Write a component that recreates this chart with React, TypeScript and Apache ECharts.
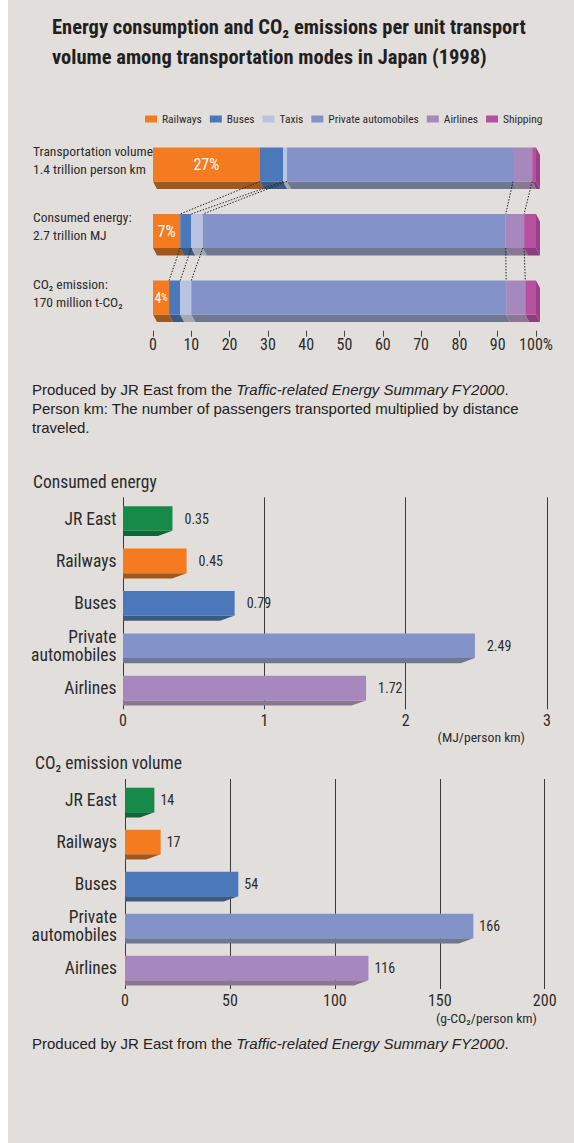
import React, { useEffect, useRef } from 'react';
import * as echarts from 'echarts';

// ---------- data ----------
const modeNames = ['Railways', 'Buses', 'Taxis', 'Private automobiles', 'Airlines', 'Shipping'];
const rowLabels = [
  'Transportation volume:\n1.4 trillion person km',
  'Consumed energy:\n2.7 trillion MJ',
  'CO₂ emission:\n170 million t-CO₂',
];
// shares (%) per mode, in modeNames order
const transportShare = [27.9, 6.1, 1.0, 59.0, 5.0, 1.0];
const energyShare = [7.1, 2.9, 3.0, 79.1, 4.8, 3.1];
const co2Share = [4.2, 2.9, 2.9, 82.2, 5.0, 2.8];
const railwayShareLabels = ['27', '7', '4'];

const lowerCategories = ['JR East', 'Railways', 'Buses', 'Private\nautomobiles', 'Airlines'];
const energyValues = [0.35, 0.45, 0.79, 2.49, 1.72];
const co2Values = [14, 17, 54, 166, 116];

const titleText = 'Energy consumption and CO₂ emissions per unit transport\nvolume among transportation modes in Japan (1998)';
const noteLines = [
  'Person km: The number of passengers transported multiplied by distance',
  'traveled.',
];
const sourcePlain = 'Produced by JR East from the ';
const sourceItalic = 'Traffic-related Energy Summary FY2000';

// ---------- styles ----------
const NARROW = "'Liberation Sans Narrow','Arial Narrow','Roboto Condensed','DejaVu Sans Condensed','Liberation Sans',sans-serif";
const SANS = "'Liberation Sans', Arial, Helvetica, sans-serif";
const BG = '#e2dedb';
const TXT = '#2b2b2b';
const NOTE_SIZE = 15;
const modeColors = ['#f47b20', '#4a78bb', '#b9c3e2', '#8393c9', '#a688bf', '#b5529f'];
const modeBevel = ['#a0581e', '#3b5a7f', '#a2a8b6', '#6f7891', '#8b7794', '#8d3c7e'];
const shippingSide = '#9a3f8a';
const catColors = ['#178a4a', '#f47b20', '#4a78bb', '#8393c9', '#a688bf'];
const catBevel = ['#0e6535', '#a0581e', '#3b5a7f', '#6f7891', '#8b7794'];
const shareNumSize = [16, 16, 14];
const sharePctSize = [16, 16, 10];

function cumulative(row: number[]) {
  let acc = 0;
  return [0, ...row.map((v) => (acc += v))];
}

function buildOption() {
  const shareRows = [transportShare, energyShare, co2Share];
  const cumRows = shareRows.map(cumulative);
  const HALF = 17;
  const DX = 4;
  const DY = 7.5;

  const stackSeries = modeNames.map((name, k) => ({
    type: 'custom',
    name,
    coordinateSystem: 'cartesian2d',
    xAxisIndex: 0,
    yAxisIndex: 0,
    itemStyle: { color: modeColors[k] },
    encode: { x: [0, 1], y: 2 },
    z: 3,
    data: cumRows.map((c, r) => [c[k], c[k + 1], r]),
    renderItem: (params: any, api: any) => {
      const s = api.value(0);
      const e = api.value(1);
      const r = api.value(2);
      const p0 = api.coord([s, r]);
      const p1 = api.coord([e, r]);
      const top = p0[1] - HALF;
      const bot = p0[1] + HALF;
      const children: any[] = [
        {
          type: 'polygon',
          shape: { points: [[p0[0], bot], [p1[0], bot], [p1[0] + DX, bot + DY], [p0[0] + DX, bot + DY]] },
          style: { fill: modeBevel[k] },
        },
        {
          type: 'rect',
          shape: { x: p0[0], y: top, width: p1[0] - p0[0], height: bot - top },
          style: { fill: modeColors[k] },
        },
      ];
      if (k === modeNames.length - 1) {
        children.push({
          type: 'polygon',
          shape: { points: [[p1[0], top], [p1[0] + DX, top + DY], [p1[0] + DX, bot + DY], [p1[0], bot]] },
          style: { fill: shippingSide },
        });
      }
      if (k === 0) {
        children.push({
          type: 'text',
          x: (p0[0] + p1[0]) / 2,
          y: p0[1],
          style: {
            text: `{n|${railwayShareLabels[r]}}{p|%}`,
            align: 'center',
            verticalAlign: 'middle',
            rich: {
              n: { fontSize: shareNumSize[r], fontFamily: NARROW, fill: '#ffffff', color: '#ffffff' },
              p: { fontSize: sharePctSize[r], fontFamily: NARROW, fill: '#ffffff', color: '#ffffff' },
            },
          },
        });
      }
      return { type: 'group', children };
    },
  }));

  const connectorData: number[][] = [];
  for (let r = 0; r < cumRows.length - 1; r++) {
    for (let k = 1; k < modeNames.length; k++) {
      connectorData.push([cumRows[r][k], r, cumRows[r + 1][k], r + 1]);
    }
  }
  const connectorSeries = {
    type: 'custom',
    name: 'connectors',
    coordinateSystem: 'cartesian2d',
    xAxisIndex: 0,
    yAxisIndex: 0,
    encode: { x: [0, 2], y: [1, 3] },
    z: 6,
    silent: true,
    data: connectorData,
    renderItem: (params: any, api: any) => {
      const a = api.coord([api.value(0), api.value(1)]);
      const b = api.coord([api.value(2), api.value(3)]);
      return {
        type: 'line',
        shape: { x1: a[0], y1: a[1] + HALF, x2: b[0], y2: b[1] - HALF },
        style: { stroke: '#222', lineWidth: 1, lineDash: [1.5, 1.5] },
      };
    },
  };

  const lowerRender = (fmt: (v: number) => string, gap: number) => (params: any, api: any) => {
    const v = api.value(0);
    const idx = api.value(1);
    const p0 = api.coord([0, idx]);
    const p1 = api.coord([v, idx]);
    const top = p1[1] - 12.3;
    const bot = p1[1] + 12.3;
    return {
      type: 'group',
      children: [
        {
          type: 'polygon',
          shape: { points: [[p0[0], bot], [p1[0], bot], [p1[0] - 14.5, bot + 5.2], [p0[0], bot + 5.2]] },
          style: { fill: catBevel[idx] },
        },
        {
          type: 'rect',
          shape: { x: p0[0], y: top, width: p1[0] - p0[0], height: bot - top },
          style: { fill: catColors[idx] },
        },
        {
          type: 'text',
          x: p1[0] + gap,
          y: p1[1],
          style: {
            text: fmt(v),
            fontSize: 14,
            fontFamily: NARROW,
            fill: TXT,
            align: 'left',
            verticalAlign: 'middle',
          },
        },
      ],
    };
  };

  const energySeries = {
    type: 'custom',
    name: 'Consumed energy',
    coordinateSystem: 'cartesian2d',
    xAxisIndex: 1,
    yAxisIndex: 1,
    encode: { x: 0, y: 1 },
    z: 3,
    data: energyValues.map((v, i) => [v, i]),
    renderItem: lowerRender((v) => v.toFixed(2), 12),
  };
  const co2Series = {
    type: 'custom',
    name: 'CO₂ emission volume',
    coordinateSystem: 'cartesian2d',
    xAxisIndex: 2,
    yAxisIndex: 2,
    encode: { x: 0, y: 1 },
    z: 3,
    data: co2Values.map((v, i) => [v, i]),
    renderItem: lowerRender((v) => String(v), 6),
  };

  const valueAxisLabel = (margin: number) => ({
    fontSize: 16,
    fontFamily: NARROW,
    color: TXT,
    margin,
  });

  const catAxisLabel = (margin: number) => ({
    fontSize: 17.5,
    lineHeight: 18,
    fontFamily: NARROW,
    color: TXT,
    margin,
  });

  const sourceRich = (y: number) => ({
    type: 'text',
    x: 32,
    y,
    style: {
      text: `{n|${sourcePlain}}{i|${sourceItalic}}{n|.}`,
      verticalAlign: 'middle',
      align: 'left',
      rich: {
        n: { fontSize: NOTE_SIZE, fontFamily: SANS, fill: '#222', color: '#222' },
        i: { fontSize: NOTE_SIZE, fontFamily: SANS, fontStyle: 'italic', fill: '#222', color: '#222' },
      },
    },
  });

  const plainText = (text: string, x: number, y: number, size: number, family: string, align = 'left') => ({
    type: 'text',
    x,
    y,
    style: { text, fontSize: size, fontFamily: family, fill: TXT, align, verticalAlign: 'middle' },
  });

  return {
    animation: false,
    backgroundColor: BG,
    color: modeColors,
    title: {
      text: titleText,
      left: 52,
      top: 12,
      padding: 0,
      textStyle: { fontFamily: NARROW, fontSize: 20.5, fontWeight: 'bold', color: '#231f20', lineHeight: 30 },
    },
    legend: {
      data: modeNames,
      left: 145,
      top: 113,
      width: 429,
      padding: 0,
      icon: 'rect',
      itemWidth: 12,
      itemHeight: 7,
      itemGap: 8,
      selectedMode: false,
      textStyle: { fontSize: 11.5, fontFamily: NARROW, color: TXT },
    },
    grid: [
      { left: 153, width: 383, top: 131.25, height: 199.5, outerBoundsMode: 'none' },
      { left: 123, width: 424, top: 497.3, height: 212, outerBoundsMode: 'none' },
      { left: 125, width: 419.7, top: 779, height: 210, outerBoundsMode: 'none' },
    ],
    xAxis: [
      {
        gridIndex: 0,
        type: 'value',
        min: 0,
        max: 100,
        interval: 10,
        axisLine: { show: false },
        axisTick: { show: true, length: 6, lineStyle: { color: '#444', width: 1 } },
        splitLine: { show: false },
        axisLabel: { ...valueAxisLabel(6), formatter: (v: number) => (v === 100 ? '100%' : String(v)) },
      },
      {
        gridIndex: 1,
        type: 'value',
        min: 0,
        max: 3,
        interval: 1,
        axisLine: { show: false },
        axisTick: { show: false },
        splitLine: { show: true, showMinLine: true, showMaxLine: true, lineStyle: { color: '#3a3a3a', width: 1 } },
        axisLabel: valueAxisLabel(3),
      },
      {
        gridIndex: 2,
        type: 'value',
        min: 0,
        max: 200,
        interval: 50,
        axisLine: { show: false },
        axisTick: { show: false },
        splitLine: { show: true, showMinLine: true, showMaxLine: true, lineStyle: { color: '#3a3a3a', width: 1 } },
        axisLabel: valueAxisLabel(3),
      },
    ],
    yAxis: [
      {
        gridIndex: 0,
        type: 'category',
        inverse: true,
        data: rowLabels,
        axisLine: { show: false },
        axisTick: { show: false },
        axisLabel: {
          align: 'left',
          margin: 120,
          fontSize: 13.5,
          lineHeight: 18,
          fontFamily: NARROW,
          color: TXT,
          formatter: (v: string) => `${v}\n{gap|}`,
          rich: { gap: { fontSize: 1, lineHeight: 10 } },
        },
      },
      {
        gridIndex: 1,
        type: 'category',
        inverse: true,
        data: lowerCategories,
        axisLine: { show: false },
        axisTick: { show: false },
        axisLabel: catAxisLabel(6.5),
      },
      {
        gridIndex: 2,
        type: 'category',
        inverse: true,
        data: lowerCategories,
        axisLine: { show: false },
        axisTick: { show: false },
        axisLabel: catAxisLabel(8),
      },
    ],
    series: [...stackSeries, connectorSeries, energySeries, co2Series],
    graphic: [
      { type: 'rect', left: 0, top: 0, shape: { x: 0, y: 0, width: 8, height: 1143 }, style: { fill: '#ffffff' }, z: 100 },
      sourceRich(389),
      { type: 'text', x: 32, y: 408, style: { text: noteLines[0], fontSize: NOTE_SIZE, fontFamily: SANS, fill: '#222', align: 'left', verticalAlign: 'middle' } },
      { type: 'text', x: 32, y: 427, style: { text: noteLines[1], fontSize: NOTE_SIZE, fontFamily: SANS, fill: '#222', align: 'left', verticalAlign: 'middle' } },
      plainText('Consumed energy', 33, 481.5, 17.5, NARROW),
      plainText('(MJ/person km)', 525, 737, 13.7, NARROW, 'right'),
      plainText('CO₂ emission volume', 35, 763, 17.5, NARROW),
      plainText('(g-CO₂/person km)', 537, 1018, 13.7, NARROW, 'right'),
      sourceRich(1043),
    ],
  };
}

export default function App() {
  const ref = useRef<HTMLDivElement>(null);
  useEffect(() => {
    if (!ref.current) return;
    const chart = echarts.init(ref.current, null, { renderer: 'svg' });
    chart.setOption(buildOption() as any);
    return () => chart.dispose();
  }, []);
  return (
    <div style={{ position: 'absolute', left: 0, top: 0, width: 574, height: 1143, background: '#ffffff' }}>
      <div ref={ref} style={{ width: 574, height: 1143 }} />
    </div>
  );
}
